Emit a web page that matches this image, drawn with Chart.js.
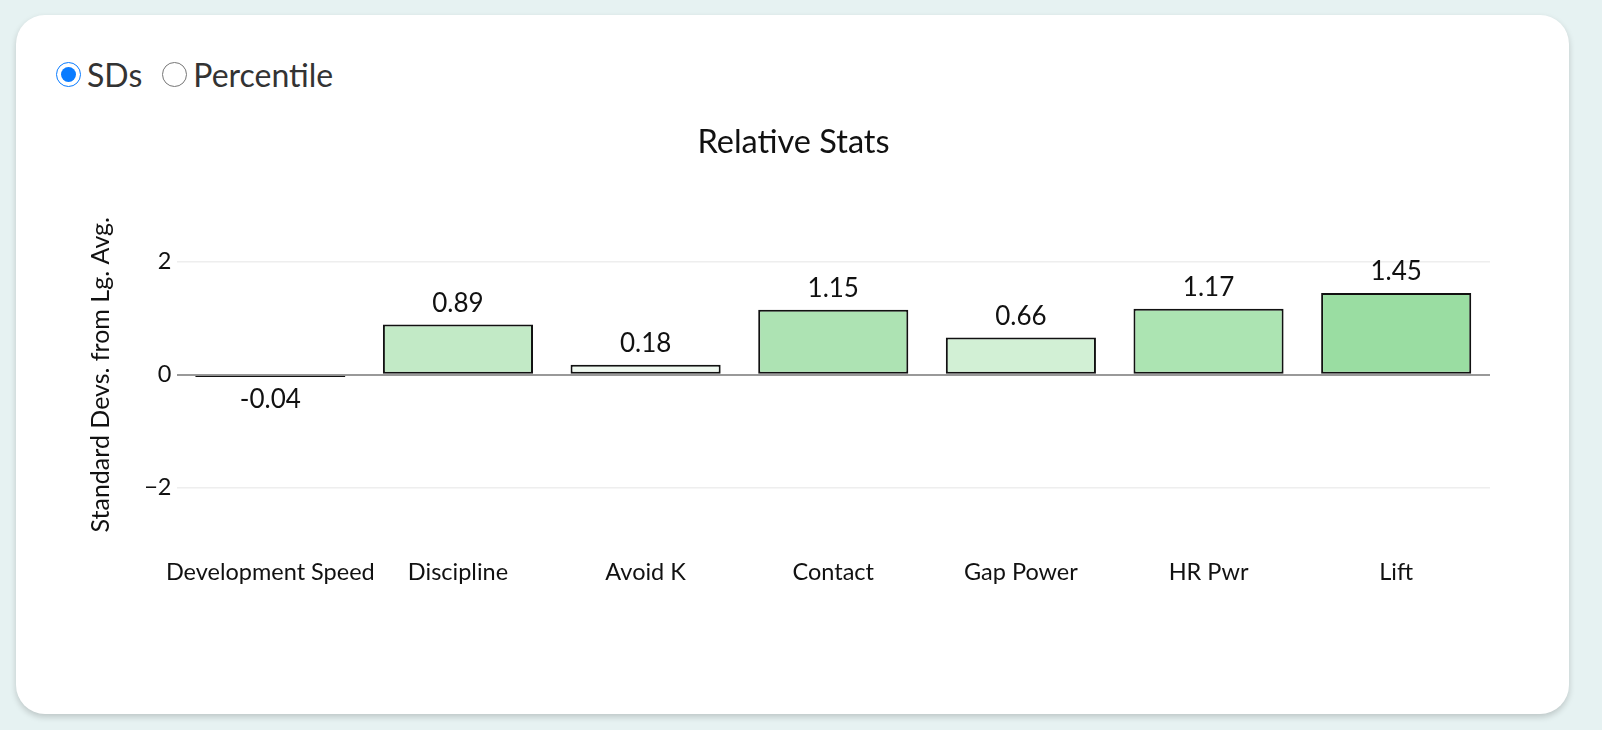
<!DOCTYPE html>
<html>
<head>
<meta charset="UTF-8">
<title>Relative Stats</title>
<style>
body{
	margin: 0;
	width: 1602px;
	height: 730px;
	background-color: #e6f2f2;
	font-family: Lato, sans-serif;
	overflow: hidden;
}
.card{
	position: absolute;
	left: 16px;
	top: 15px;
	width: 1553px;
	height: 699px;
	background-color: white;
	border-radius: 29px;
	box-shadow: 0 3px 6px rgba(0,0,0,0.18);
}
.radios{
	position: absolute;
	left: 56px;
	top: 55px;
	font-size: 32px;
	color: #333;
	display: flex;
	align-items: center;
}
.radios label{
	display: flex;
	align-items: center;
	margin-right: 20px;
}
.radios input{
	width: 25px;
	height: 25px;
	margin: 0 6px 0 0;
	accent-color: #0a7cff;
}
#chartBox{
	position: absolute;
	left: 84.5px;
	top: 100px;
	width: 1417px;
	height: 516px;
}
</style>
</head>
<body>
	<div class="card"></div>
	<div class="radios">
		<label><input type="radio" name="mode" checked>SDs</label>
		<label><input type="radio" name="mode">Percentile</label>
	</div>
	<div id="chartBox"><canvas id="myChart"></canvas></div>

<script src="https://cdn.jsdelivr.net/npm/chart.js@4.4.0/dist/chart.umd.min.js"></script>
<script>
// 항목 / 값
const categories = ['Development Speed','Discipline','Avoid K','Contact','Gap Power','HR Pwr','Lift'];
const sdValues = [-0.04, 0.89, 0.18, 1.15, 0.66, 1.17, 1.45];
const yTicks = [-2, 0, 2];
// 막대 색 (값이 클수록 진한 초록)
const barColors = ['#f6dede','#c2eac6','#eff9f0','#ade3b3','#d2f0d5','#ace4b2','#9adda2'];

// 막대 위/아래 숫자 라벨
const valueLabels = {
	id:'valueLabels',
	afterDatasetsDraw(chart){
		const ctx = chart.ctx;
		const meta = chart.getDatasetMeta(0);
		ctx.save();
		ctx.font = '26px Lato';
		ctx.fillStyle = '#111';
		ctx.textAlign = 'center';
		ctx.textBaseline = 'middle';
		meta.data.forEach(function(bar, i){
			let v = sdValues[i];
			let y = v >= 0 ? bar.y - 21 : bar.y + 23;
			ctx.fillText(v.toFixed(2), bar.x, y);
		});
		ctx.restore();
	}
};

let chart = new Chart(document.getElementById('myChart'),{
	type:'bar',
	data:{
		labels:categories,
		datasets:[{
			data:sdValues,
			backgroundColor:barColors,
			borderColor:'#111',
			borderWidth:2,
			borderSkipped:false,
			categoryPercentage:1,
			barPercentage:0.8
		}]
	},
	options:{
		responsive:true,
		maintainAspectRatio:false,
		animation:false,
		layout:{padding:{left:12, right:12, top:0, bottom:15}},
		plugins:{
			legend:{display:false},
			tooltip:{enabled:false},
			title:{
				display:true,
				text:'Relative Stats',
				color:'#111',
				font:{family:'Lato', size:32.5, weight:'normal'},
				padding:{top:23.5, bottom:42.9}
			}
		},
		scales:{
			x:{
				grid:{display:false, drawTicks:false},
				border:{display:false},
				ticks:{color:'#111', font:{family:'Lato', size:23.5}, padding:14.3, maxRotation:0, autoSkip:false}
			},
			y:{
				min:-3,
				max:3,
				afterBuildTicks(axis){
					axis.ticks = yTicks.map(function(v){ return {value:v}; });
				},
				afterFit(axis){
					axis.width = 79.5;
				},
				grid:{
					drawTicks:false,
					color:function(c){ return c.tick && c.tick.value === 0 ? '#999' : '#eee'; },
					lineWidth:function(c){ return c.tick && c.tick.value === 0 ? 2 : 1.5; }
				},
				border:{display:false},
				ticks:{
					color:'#111',
					font:{family:'Lato', size:23.5},
					padding:5,
					callback:function(v){ return v < 0 ? '\u2212' + Math.abs(v) : v; }
				},
				title:{
					display:true,
					text:'Standard Devs. from Lg. Avg.',
					color:'#111',
					font:{family:'Lato', size:25, lineHeight:1},
					padding:{top:-9, bottom:0}
				}
			}
		}
	},
	plugins:[valueLabels]
});
</script>
</body>
</html>
